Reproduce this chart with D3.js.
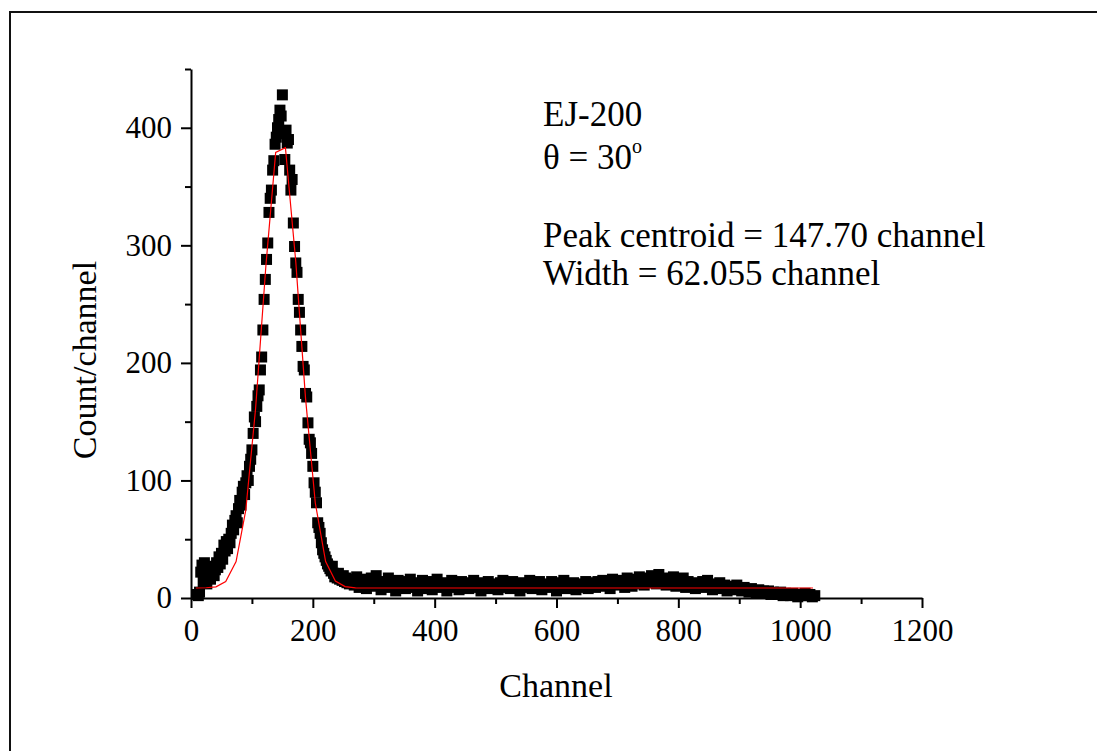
<!DOCTYPE html>
<html>
<head>
<meta charset="utf-8">
<script src="https://cdn.jsdelivr.net/npm/d3@7"></script>
<style>
  html, body { margin: 0; padding: 0; background: #fff; }
  svg { display: block; }
  text { font-family: 'Liberation Serif', 'Times New Roman', serif; fill: #000; }
</style>
</head>
<body>
<script>
// ---- data ----
const peakChannels = [10,12,14,16,18,20,22,24,26,28,30,32,34,36,38,40,42,44,46,48,50,52,54,56,58,60,62,64,66,68,70,72,74,76,78,80,82,84,86,88,90,92,94,96,98,100,102,104,106,108,110,112,114,116,118,120,122,124,126,128,130,132,134,136,138,140,142,144,146,148,150,152,154,156,158,160,162,164,166,168,170,172,174,176,178,180,182,184,186,188,190,192,194,196,198,200,202,204,206,208,210,212,214,216,218,220,222,224,226,228,230,232,234,236,238,240,242,244,246,248,250,252,254,256,258,260];
const peakCounts = [3,2,5,22,28,14,30,18,12,25,20,16,22,27,19,24,30,26,35,29,38,33,45,40,48,42,50,47,55,62,58,66,70,64,76,83,79,90,95,88,98,104,100,112,118,126,140,154,150,163,172,177,194,205,228,254,271,288,302,328,340,347,364,372,386,392,400,407,415,410,428,395,373,398,387,390,364,347,356,319,299,285,277,254,243,228,214,197,194,174,171,149,135,132,123,112,98,90,81,64,60,55,47,41,38,35,32,29,27,25,23,27,21,18,20,17,21,16,18,15,19,14,17,13,16,12];

const tailChannels = [264,268,272,276,280,284,288,292,296,300,304,308,312,316,320,324,328,332,336,340,344,348,352,356,360,364,368,372,376,380,384,388,392,396,400,404,408,412,416,420,424,428,432,436,440,444,448,452,456,460,464,468,472,476,480,484,488,492,496,500,504,508,512,516,520,524,528,532,536,540,544,548,552,556,560,564,568,572,576,580,584,588,592,596,600,604,608,612,616,620,624,628,632,636,640,644,648,652,656,660,664,668,672,676,680,684,688,692,696,700,704,708,712,716,720,724,728,732,736,740,744,748,752,756,760,764,768,772,776,780,784,788,792,796,800,804,808,812,816,820,824,828,832,836,840,844,848,852,856,860,864,868,872,876,880,884,888,892,896,900,904,908,912,916,920,924,928,932,936,940,944,948,952,956,960,964,968,972,976,980,984,988,992,996,1000,1004,1008,1012,1016,1020,1024];
const tailCounts = [14,11,18,9,13,16,8,12,17,10,
  19,11,7,14,12,17,9,13,6,15,
  10,14,8,12,16,9,11,6,13,15,
  8,12,14,7,10,16,11,9,13,6,
  12,15,9,11,7,14,10,13,8,12,
  15,9,11,6,13,10,14,8,12,11,
  7,13,15,9,11,8,14,10,12,6,
  13,9,11,15,8,12,10,14,7,11,
  12,9,14,10,6,13,11,15,8,12,
  10,13,7,11,9,12,14,8,11,13,
  9,14,11,15,10,13,8,16,12,14,
  11,15,9,17,13,10,16,12,18,14,
  11,17,13,19,15,12,20,14,17,11,
  16,13,18,10,15,12,17,9,14,11,
  13,8,12,10,14,9,15,11,7,12,
  10,13,8,11,6,10,9,7,11,8,
  6,9,7,5,8,6,4,7,5,6,
  4,6,3,5,4,3,5,2,4,3,
  2,4,3,1,3,2,4,2,3,1,2];

const fitChannels = [8,25,41,57,74,90,106,123,139,155,172,188,204,221,237,253,270,400,600,800,1021];
const fitCounts   = [8.5,8.7,9.5,14,31,75,161,283,379,383,286,170,81,31,14.5,9.7,8.6,8.5,8.5,8.5,8.5];

const xMajorTicks = [0,200,400,600,800,1000,1200];
const xMinorTicks = [100,300,500,700,900,1100];
const yMajorTicks = [0,100,200,300,400];
const yMinorTicks = [50,150,250,350,450];

const annotation = ["EJ-200", "θ = 30", "Peak centroid = 147.70 channel", "Width = 62.055 channel"];
const xTitle = "Channel";
const yTitle = "Count/channel";

// ---- drawing ----
const W = 1097, H = 751;
const FONT = "'Liberation Serif', 'Times New Roman', serif";
const svg = d3.select("body").append("svg").attr("width", W).attr("height", H)
  .attr("font-family", FONT);

svg.append("rect").attr("x", 10).attr("y", 12).attr("width", 1200).attr("height", 1000)
  .attr("fill", "none").attr("stroke", "#111").attr("stroke-width", 2);

const x = d3.scaleLinear().domain([0, 1200]).range([191, 922]);
const y = d3.scaleLinear().domain([0, 450]).range([598, 69]);

const points = peakChannels.map((c, i) => ({c, v: peakCounts[i]}))
  .concat(tailChannels.map((c, i) => ({c, v: tailCounts[i]})));

const S = 11;
svg.append("g").selectAll("rect").data(points).join("rect")
  .attr("x", d => x(d.c) - S / 2).attr("y", d => y(d.v) - S / 2)
  .attr("width", S).attr("height", S).attr("fill", "#000");

const fit = fitChannels.map((c, i) => ({c, v: fitCounts[i]}));
svg.append("path").datum(fit)
  .attr("d", d3.line().x(d => x(d.c)).y(d => y(d.v)))
  .attr("fill", "none").attr("stroke", "#ff0000").attr("stroke-width", 1.2);

// axes
const tickFont = 31;
const gx = svg.append("g").attr("transform", "translate(0,598)")
  .call(d3.axisBottom(x).tickValues(xMajorTicks).tickSize(10).tickSizeOuter(0).tickPadding(11).tickFormat(d3.format("d")));
const gxm = svg.append("g").attr("transform", "translate(0,598)")
  .call(d3.axisBottom(x).tickValues(xMinorTicks).tickSize(6).tickSizeOuter(0).tickFormat(""));
const gy = svg.append("g").attr("transform", "translate(191,0)")
  .call(d3.axisLeft(y).tickValues(yMajorTicks).tickSize(10).tickSizeOuter(0).tickPadding(9).tickFormat(d3.format("d")));
const gym = svg.append("g").attr("transform", "translate(191,0)")
  .call(d3.axisLeft(y).tickValues(yMinorTicks).tickSize(6).tickSizeOuter(0).tickFormat(""));

[gx, gxm, gy, gym].forEach(g => {
  g.attr("font-family", FONT);
  g.select(".domain").attr("stroke", "#000").attr("stroke-width", 2);
  g.selectAll(".tick line").attr("stroke", "#000").attr("stroke-width", 2);
  g.selectAll("text").attr("font-family", FONT)
    .style("font-size", tickFont + "px").attr("fill", "#000");
});
gxm.select(".domain").remove();
gym.select(".domain").remove();

// axis titles
svg.append("text").attr("x", 556).attr("y", 697).attr("text-anchor", "middle")
  .style("font-size", "34px").text(xTitle);
svg.append("text").attr("transform", "translate(96,360) rotate(-90)").attr("text-anchor", "middle")
  .style("font-size", "34px").text(yTitle);

// annotation
const annX = 543, annSize = 35;
svg.append("text").attr("x", annX).attr("y", 126).style("font-size", annSize + "px").text(annotation[0]);
const th = svg.append("text").attr("x", annX).attr("y", 169).style("font-size", annSize + "px");
th.append("tspan").text(annotation[1]);
th.append("tspan").attr("dy", -16).style("font-size", "20px").text("o");
svg.append("text").attr("x", annX).attr("y", 247).style("font-size", annSize + "px").text(annotation[2]);
svg.append("text").attr("x", annX).attr("y", 285).style("font-size", annSize + "px").text(annotation[3]);
</script>
</body>
</html>
